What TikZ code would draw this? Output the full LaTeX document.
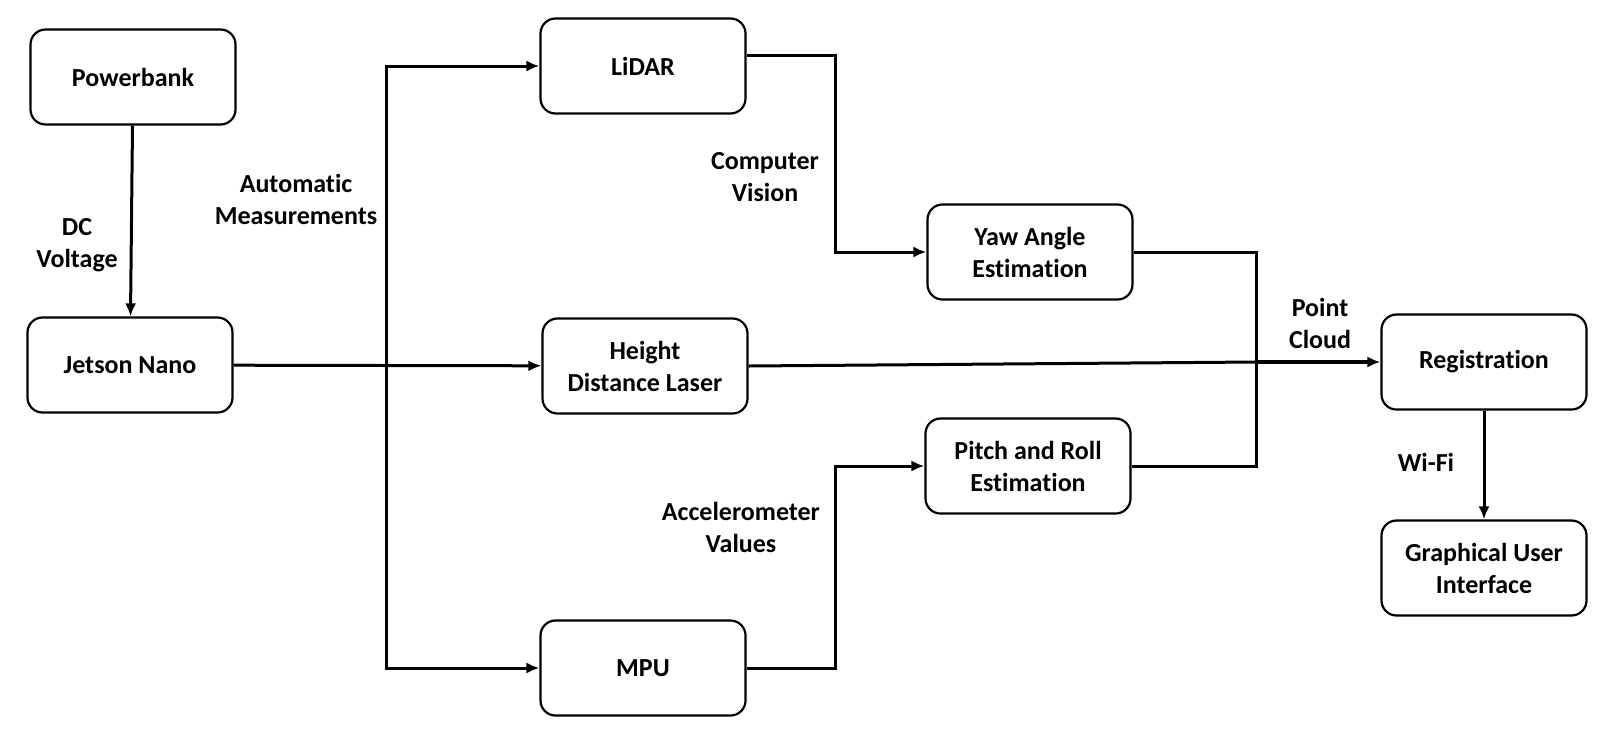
\documentclass[tikz,border=0pt]{standalone}
\usepackage{fontspec}
\setmainfont{Carlito}[Ligatures=NoCommon]
\usetikzlibrary{arrows.meta}

\begin{document}
\begin{tikzpicture}[x=1pt, y=-1pt,
    block/.style={draw, line width=2.2pt, rounded corners=15pt, minimum width=205pt,
        minimum height=95pt, align=center, font=\fontsize{26}{32}\selectfont\bfseries},
    lbl/.style={align=center, font=\fontsize{26}{32}\selectfont\bfseries},
    conn/.style={line width=3pt, -{Latex[length=13pt,width=11pt]}},
    wire/.style={line width=3pt}]
    \useasboundingbox (0,0) rectangle (1600,737);
    % Bloques
    \node[block] (power) at (133,77) {Powerbank};
    \node[block] (jetson) at (130,365) {Jetson Nano};
    \node[block] (lidar) at (643,66) {LiDAR};
    \node[block] (laser) at (645,366) {Height\\Distance Laser};
    \node[block] (mpu) at (643,668) {MPU};
    \node[block] (yaw) at (1030,252) {Yaw Angle\\Estimation};
    \node[block] (pitch) at (1028,466) {Pitch and Roll\\Estimation};
    \node[block] (reg) at (1484,362) {Registration};
    \node[block] (gui) at (1484,568) {Graphical User\\Interface};
    % Puntos de union
    \coordinate (split) at (386,365);
    \coordinate (cvbend) at (835,150);
    \coordinate (accbend) at (835,560);
    \coordinate (merge) at (1256,362);
    % Conexiones
    \draw[conn] (power) -- (jetson);
    \draw[conn] (jetson) -- (laser);
    \draw[conn] (split) |- (lidar.west);
    \draw[conn] (split) |- (mpu.west);
    \draw[conn] ([yshift=11pt]lidar.east) -| (cvbend) |- (yaw.west);
    \draw[conn] (mpu.east) -| (accbend) |- (pitch.west);
    \draw[wire] (yaw.east) -| (merge) |- (pitch.east);
    \draw[wire] (laser.east) -- (merge);
    \draw[conn, line width=4pt] (merge) -- (reg.west);
    \draw[conn] (reg) -- (gui);
    % Etiquetas
    \node[lbl] (dcv) at (77,245) {DC\\Voltage};
    \node[lbl] (auto) at (296,199) {Automatic\\Measurements};
    \node[lbl] (cv) at (765,177) {Computer\\Vision};
    \node[lbl] (acc) at (741,527) {Accelerometer\\Values};
    \node[lbl] (pc) at (1320,323) {Point\\Cloud};
    \node[lbl] (wifi) at (1426,462) {Wi-Fi};
\end{tikzpicture}
\end{document}
